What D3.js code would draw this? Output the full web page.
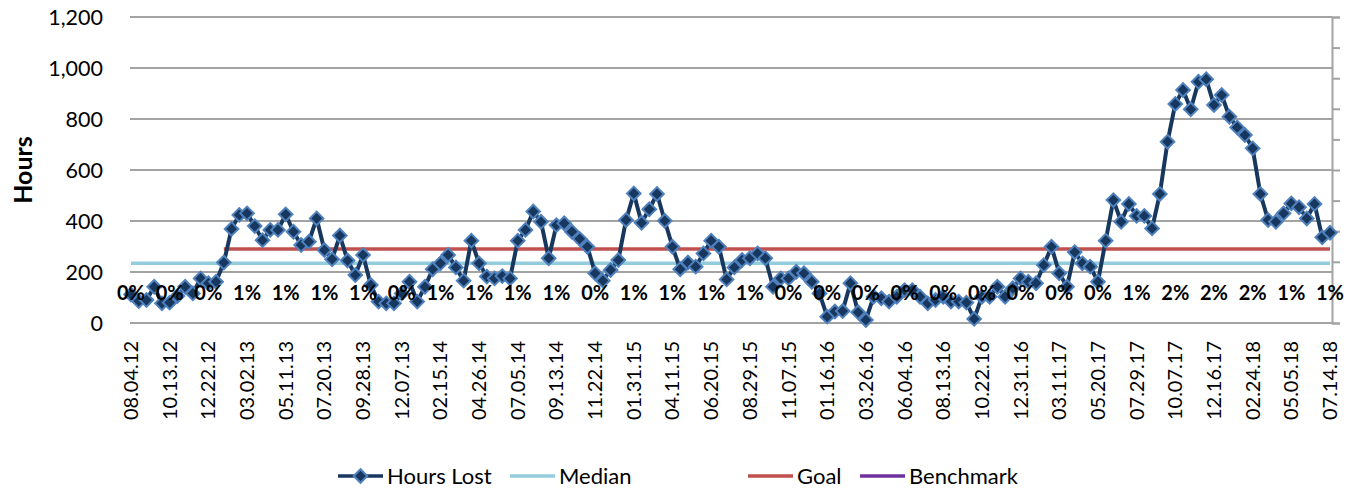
<!DOCTYPE html>
<html>
<head>
<meta charset="utf-8">
<script src="https://cdn.jsdelivr.net/npm/d3@7"></script>
<style>
  body { margin: 0; background: #fff; }
  text { font-family: Lato, "Open Sans", sans-serif; fill: #000; }
</style>
</head>
<body>
<div id="chart"></div>
<script>

  // x-axis tick labels, one every 5th (bi-weekly) point
  const tickLabels = ["08.04.12", "10.13.12", "12.22.12", "03.02.13", "05.11.13", "07.20.13", "09.28.13",
    "12.07.13", "02.15.14", "04.26.14", "07.05.14", "09.13.14", "11.22.14", "01.31.15", "04.11.15",
    "06.20.15", "08.29.15", "11.07.15", "01.16.16", "03.26.16", "06.04.16", "08.13.16", "10.22.16",
    "12.31.16", "03.11.17", "05.20.17", "07.29.17", "10.07.17", "12.16.17", "02.24.18", "05.05.18", "07.14.18"];

  // Hours Lost, one value per bi-weekly period
  const hoursLost = [
    112, 86, 90, 142, 77, 80, 106, 142, 116, 175,
    156, 162, 237, 369, 424, 430, 380, 325, 365, 365,
    426, 358, 306, 319, 410, 286, 250, 343, 245, 188,
    267, 149, 84, 77, 77, 116, 162, 84, 142, 211,
    234, 267, 218, 166, 323, 234, 182, 175, 184, 175,
    323, 365, 437, 397, 254, 384, 391, 358, 330, 299,
    195, 166, 208, 247, 404, 508, 393, 446, 506, 401,
    299, 211, 237, 221, 273, 323, 299, 171, 218, 247,
    254, 273, 254, 142, 175, 175, 201, 195, 162, 116,
    25, 45, 47, 156, 42, 12, 103, 97, 84, 103,
    129, 129, 103, 77, 90, 103, 84, 84, 80, 16,
    103, 103, 142, 103, 136, 175, 162, 156, 227, 299,
    195, 142, 278, 234, 221, 162, 323, 482, 397, 467,
    420, 420, 371, 506, 711, 859, 914, 838, 946, 956,
    855, 894, 809, 767, 737, 685, 506, 404, 397, 430,
    469, 454, 410, 467, 336, 354];

  // benchmark data labels shown at every 5th point
  const benchmarkLabels = ["0%", "0%", "0%", "1%", "1%", "1%", "1%", "0%", "1%", "1%", "1%", "1%",
    "0%", "1%", "1%", "1%", "1%", "0%", "0%", "0%", "0%", "0%", "0%", "0%", "0%", "0%",
    "1%", "2%", "2%", "2%", "1%", "1%"];

  const medianValue = 234;
  const goalValue = 290;
  const goalStart = 12;
  const yTicks = [0, 200, 400, 600, 800, 1000, 1200];

  const width = 1347, height = 491;
  const plot = { left: 130, right: 1332, top: 17, bottom: 323 };

  const svg = d3.select("#chart").append("svg")
    .attr("width", width)
    .attr("height", height);

  const idx = d3.range(hoursLost.length);
  const x = d3.scalePoint().domain(idx).range([131, 1330]);
  const y = d3.scaleLinear().domain([0, 1200]).range([plot.bottom, plot.top]);

  // gridlines
  svg.append("g")
    .selectAll("line")
    .data(yTicks)
    .join("line")
    .attr("x1", plot.left)
    .attr("x2", plot.right)
    .attr("y1", d => y(d))
    .attr("y2", d => y(d))
    .attr("stroke", "#a3a3a3")
    .attr("stroke-width", 2);

  // y labels
  svg.append("g")
    .selectAll("text")
    .data(yTicks)
    .join("text")
    .attr("x", 103)
    .attr("y", d => y(d))
    .attr("dy", "0.35em")
    .attr("text-anchor", "end")
    .style("font-size", "21.5px")
    .text(d => d3.format(",")(d));

  svg.append("text")
    .attr("transform", "translate(23,170) rotate(-90)")
    .attr("dy", "0.35em")
    .attr("text-anchor", "middle")
    .style("font-size", "25px")
    .style("font-weight", "bold")
    .text("Hours");

  // secondary axis on the right (no labels)
  const y2 = d3.scaleLinear().domain([0, 10]).range([plot.bottom, plot.top]);
  const rightAxis = svg.append("g")
    .attr("transform", `translate(${plot.right},0)`)
    .call(d3.axisRight(y2).ticks(10).tickSize(8).tickFormat(""));
  rightAxis.select(".domain").attr("stroke", "#a3a3a3").attr("stroke-width", 2);
  rightAxis.selectAll(".tick line").attr("stroke", "#a3a3a3").attr("stroke-width", 2);

  // x labels
  svg.append("g")
    .selectAll("text")
    .data(tickLabels)
    .join("text")
    .attr("transform", (d, i) => `translate(${x(i * 5)},341) rotate(-90)`)
    .attr("dy", "0.35em")
    .attr("text-anchor", "end")
    .style("font-size", "20px")
    .text(d => d);

  // median and goal
  svg.append("line")
    .attr("x1", x(0)).attr("x2", x(idx.length - 1))
    .attr("y1", y(medianValue)).attr("y2", y(medianValue))
    .attr("stroke", "#93cddd").attr("stroke-width", 3.5);

  svg.append("line")
    .attr("x1", x(goalStart)).attr("x2", x(idx.length - 1))
    .attr("y1", y(goalValue)).attr("y2", y(goalValue))
    .attr("stroke", "#c0504d").attr("stroke-width", 3.5);

  // Hours Lost line + markers
  const line = d3.line().x((d, i) => x(i)).y(d => y(d));
  svg.append("path")
    .datum(hoursLost)
    .attr("d", line)
    .attr("fill", "none")
    .attr("stroke", "#17375e")
    .attr("stroke-width", 4)
    .attr("stroke-linejoin", "round");

  const diamond = d3.symbol().type(d3.symbolSquare).size(92);
  svg.append("g")
    .selectAll("path")
    .data(hoursLost)
    .join("path")
    .attr("transform", (d, i) => `translate(${x(i)},${y(d)}) rotate(45)`)
    .attr("d", diamond)
    .attr("fill", "#17375e")
    .attr("stroke", "#4f81bd")
    .attr("stroke-width", 2);

  // benchmark data labels
  svg.append("g")
    .selectAll("text")
    .data(benchmarkLabels)
    .join("text")
    .attr("x", (d, i) => x(i * 5))
    .attr("y", y(118))
    .attr("dy", "0.35em")
    .attr("text-anchor", "middle")
    .style("font-size", "20px")
    .style("font-weight", "bold")
    .text(d => d);

  // legend
  const legend = [
    { name: "Hours Lost", color: "#17375e", x: 338, marker: true },
    { name: "Median", color: "#93cddd", x: 510 },
    { name: "Goal", color: "#c0504d", x: 748 },
    { name: "Benchmark", color: "#7030a0", x: 860 }
  ];
  const lg = svg.append("g").selectAll("g")
    .data(legend)
    .join("g")
    .attr("transform", d => `translate(${d.x},476)`);
  lg.append("line")
    .attr("x1", 0).attr("x2", 45)
    .attr("stroke", d => d.color)
    .attr("stroke-width", 3.5);
  lg.filter(d => d.marker).append("path")
    .attr("transform", "translate(22.5,0) rotate(45)")
    .attr("d", diamond)
    .attr("fill", "#17375e")
    .attr("stroke", "#4f81bd")
    .attr("stroke-width", 2);
  lg.append("text")
    .attr("x", 49)
    .attr("dy", "0.35em")
    .style("font-size", "22px")
    .text(d => d.name);

</script>
</body>
</html>
